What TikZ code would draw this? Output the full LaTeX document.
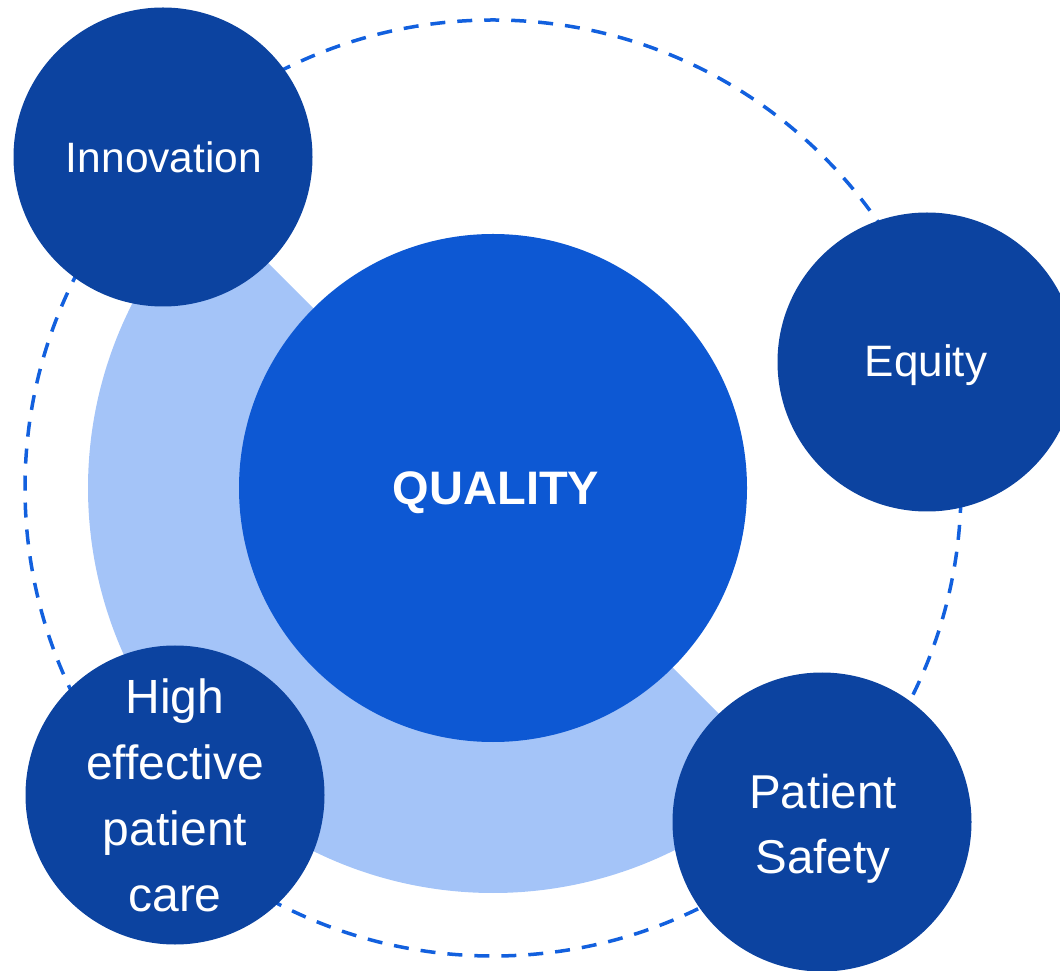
\documentclass[tikz,border=0pt]{standalone}
\usepackage{fontspec}
\setmainfont{Liberation Sans}
\definecolor{darkblue}{RGB}{12,67,160}
\definecolor{midblue}{RGB}{13,88,211}
\definecolor{ringblue}{RGB}{164,196,248}
\definecolor{dashblue}{RGB}{18,96,222}
\tikzset{
  x=1pt, y=1pt,
  bubble/.style={circle, fill=darkblue, draw=none, inner sep=0pt, minimum size=299pt},
  core/.style={circle, fill=midblue, draw=none, inner sep=0pt, minimum size=508pt},
  lbl/.style={text=white, align=center, anchor=base, inner sep=0pt},
  orbit/.style={draw=dashblue, line width=3.5pt, dash pattern=on 15pt off 12pt}
}
\begin{document}
\begin{tikzpicture}
\useasboundingbox (0,0) rectangle (1060,970);
\coordinate (C) at (493,482);
% dashed orbit
\draw[orbit] (C) circle[radius=468];
% light half ring
\fill[ringblue] (C) ++(135:405) arc[start angle=135, end angle=315, radius=405] -- cycle;
% core
\node[core] (quality) at (C) {};
\node[lbl, font=\fontsize{47}{56}\selectfont\bfseries] (tq) at (496,465) {QUALITY};
% satellites
\node[bubble] (innov) at (163,813) {};
\node[lbl, font=\fontsize{42.5}{50}\selectfont] (ti) at (164,797) {Innovation};
\node[bubble] (equity) at (927,608) {};
\node[lbl, font=\fontsize{44}{52}\selectfont] (te) at (926,593) {Equity};
\node[bubble] (hepc) at (175,175) {};
\node[lbl, font=\fontsize{48}{66}\selectfont] (th1) at (175,257) {High};
\node[lbl, font=\fontsize{48}{66}\selectfont] (th2) at (175,191) {effective};
\node[lbl, font=\fontsize{48}{66}\selectfont] (th3) at (175,125) {patient};
\node[lbl, font=\fontsize{48}{66}\selectfont] (th4) at (175,59) {care};
\node[bubble] (safety) at (822,148) {};
\node[lbl, font=\fontsize{47.5}{66}\selectfont] (ts1) at (823,162) {Patient};
\node[lbl, font=\fontsize{47.5}{66}\selectfont] (ts2) at (823,97) {Safety};
\end{tikzpicture}
\end{document}
